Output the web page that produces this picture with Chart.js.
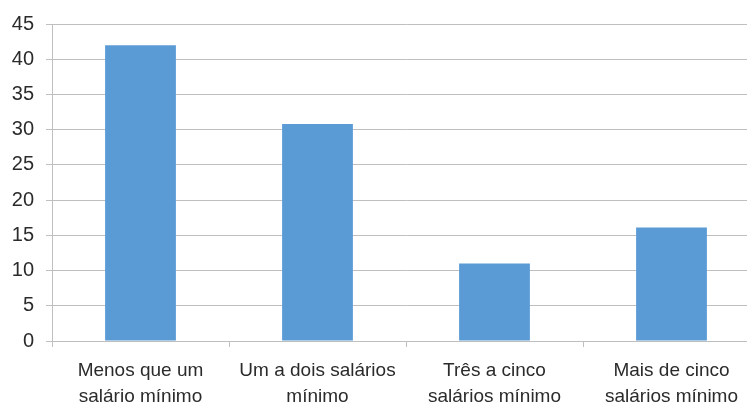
<!DOCTYPE html>
<html>
<head>
<meta charset="utf-8">
<script src="https://cdn.jsdelivr.net/npm/chart.js@4/dist/chart.umd.min.js"></script>
<style>
  html, body { margin: 0; padding: 0; background: #fff; overflow: hidden; }
  #wrap { width: 760px; height: 408px; }
</style>
</head>
<body>
<div id="wrap"><canvas id="RendaChart"></canvas></div>
<script>
// dados do gráfico //
var categorias = [
    ["Menos que um", "salário mínimo"],
    ["Um a dois salários", "mínimo"],
    ["Três a cinco", "salários mínimo"],
    ["Mais de cinco", "salários mínimo"]
];
var valores = [42, 30.8, 11, 16.1];
var yMin = 0;
var yMax = 45;
var yStep = 5;

var gridColor = '#bfbfbf';
var textColor = '#2b2b2b';

var ctx = document.getElementById('RendaChart').getContext('2d');
var chart = new Chart(ctx, {
    type: 'bar',
    data: {
        labels: categorias,
        datasets: [{
            data: valores,
            backgroundColor: '#5b9bd5',
            borderWidth: 0,
            barPercentage: 0.4,
            categoryPercentage: 1
        }]
    },
    options: {
        responsive: true,
        maintainAspectRatio: false,
        animation: false,
        layout: { padding: { top: 23, right: 0, left: 0, bottom: 0 } },
        plugins: {
            legend: { display: false },
            tooltip: { enabled: false }
        },
        scales: {
            x: {
                offset: true,
                grid: {
                    offset: true,
                    drawOnChartArea: false,
                    drawTicks: true,
                    tickLength: 6,
                    color: gridColor
                },
                border: { color: gridColor },
                ticks: {
                    color: textColor,
                    font: { family: 'Liberation Sans', size: 19, lineHeight: 1.4 },
                    maxRotation: 0,
                    autoSkip: false,
                    padding: 10
                },
                afterFit: function(scale) { scale.height = 67; }
            },
            y: {
                min: yMin,
                max: yMax,
                grid: {
                    color: gridColor,
                    drawTicks: true,
                    tickLength: 6
                },
                border: { color: gridColor },
                ticks: {
                    stepSize: yStep,
                    color: textColor,
                    font: { family: 'Liberation Sans', size: 20 },
                    padding: 12
                },
                afterFit: function(scale) { scale.width = 52; }
            }
        }
    }
});
</script>
</body>
</html>
